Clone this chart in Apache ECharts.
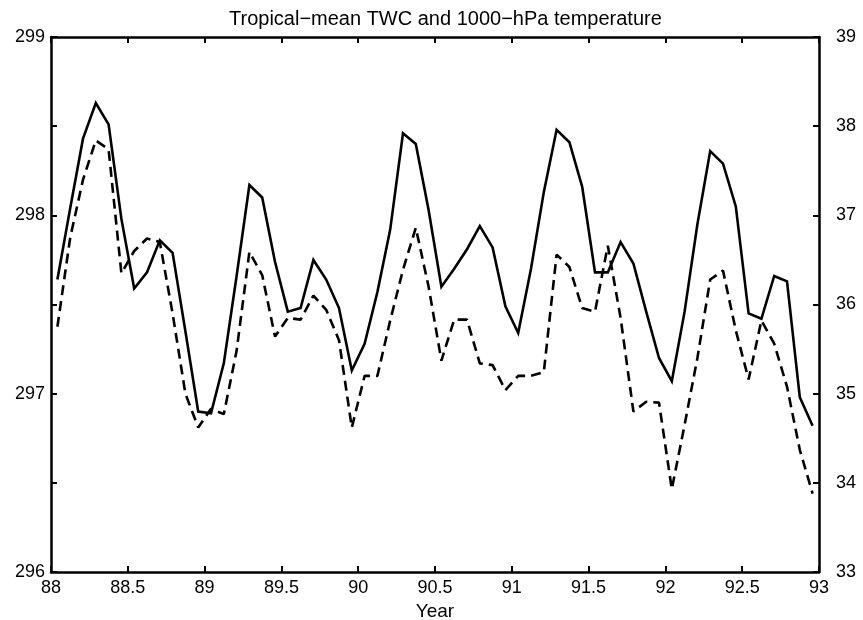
<!DOCTYPE html>
<html>
<head>
<meta charset="utf-8">
<script src="https://cdn.jsdelivr.net/npm/echarts@6/dist/echarts.min.js"></script>
<style>
    html, body { margin: 0; padding: 0; background: #fff; }
    #chart { width: 863px; height: 620px; }
</style>
</head>
<body>
<div id="chart"></div>
<script>
// monthly values, Jan 1988 .. Dec 1992, plotted at mid-month
var firstYear = 88;
var lastYear = 93;

// 1000-hPa temperature (K), left axis, solid line
var temp1000 = [
    297.64, 298.04, 298.43, 298.63, 298.51, 297.98, 297.59, 297.68, 297.86, 297.79, 297.35, 296.90,
    296.89, 297.17, 297.66, 298.17, 298.10, 297.74, 297.46, 297.48, 297.75, 297.64, 297.48, 297.13,
    297.28, 297.57, 297.92, 298.46, 298.40, 298.03, 297.60, 297.70, 297.81, 297.94, 297.82, 297.49,
    297.34, 297.70, 298.13, 298.48, 298.41, 298.16, 297.68, 297.68, 297.85, 297.73, 297.46, 297.20,
    297.07, 297.46, 297.95, 298.36, 298.29, 298.05, 297.45, 297.42, 297.66, 297.63, 296.98, 296.82
];

// TWC, right axis, dashed line
var twc = [
    35.75, 36.75, 37.40, 37.84, 37.74, 36.35, 36.60, 36.74, 36.70, 35.90, 35.00, 34.62,
    34.83, 34.77, 35.48, 36.59, 36.33, 35.64, 35.85, 35.83, 36.10, 35.94, 35.60, 34.62,
    35.20, 35.20, 35.82, 36.39, 36.86, 36.20, 35.37, 35.83, 35.83, 35.34, 35.32, 35.04,
    35.20, 35.20, 35.24, 36.56, 36.42, 35.96, 35.92, 36.66, 35.85, 34.80, 34.91, 34.90,
    33.93, 34.65, 35.40, 36.28, 36.38, 35.71, 35.16, 35.82, 35.56, 35.08, 34.37, 33.88
];

var leftMin = 296, leftMax = 299;
var rightMin = 33, rightMax = 39;

var toPairs = function (values) {
    var out = [];
    for (var i = 0; i < values.length; i++) {
        out.push([firstYear + (i + 0.5) / 12, values[i]]);
    }
    return out;
};

var font = 'Liberation Sans, Arial, Helvetica, sans-serif';
var black = '#000';

var chart = echarts.init(document.getElementById('chart'), null, { renderer: 'canvas' });

var option = {
    animation: false,
    backgroundColor: '#fff',
    title: {
        text: 'Tropical\u2212mean TWC and 1000\u2212hPa temperature',
        left: 224,
        top: 4,
        textStyle: { fontFamily: font, fontSize: 20, fontWeight: 'normal', color: black }
    },
    grid: {
        left: 51, right: 44, top: 37, bottom: 48,
        containLabel: false,
        outerBoundsMode: 'none',
        show: false
    },
    xAxis: [{
        type: 'value',
        min: firstYear, max: lastYear, interval: 0.5,
        position: 'bottom',
        name: 'Year',
        nameLocation: 'middle',
        nameGap: 27,
        nameTextStyle: { fontFamily: font, fontSize: 19, color: black },
        axisLine: { show: true, lineStyle: { color: black, width: 2.5 } },
        axisTick: { show: true, inside: true, length: 6, lineStyle: { color: black, width: 2 } },
        axisLabel: { fontFamily: font, fontSize: 18, color: black, margin: 7 },
        splitLine: { show: false }
    }, {
        type: 'value',
        min: firstYear, max: lastYear, interval: 0.5,
        position: 'top',
        axisLine: { show: true, lineStyle: { color: black, width: 2.5 } },
        axisTick: { show: true, inside: true, length: 6, lineStyle: { color: black, width: 2 } },
        axisLabel: { show: false },
        splitLine: { show: false }
    }],
    yAxis: [{
        type: 'value',
        min: leftMin, max: leftMax, interval: 0.5,
        position: 'left',
        axisLine: { show: true, lineStyle: { color: black, width: 2.5 } },
        axisTick: { show: true, inside: true, length: 6, lineStyle: { color: black, width: 2 } },
        axisLabel: {
            fontFamily: font, fontSize: 18, color: black, margin: 6,
            formatter: function (v) { return v % 1 === 0 ? String(v) : ''; }
        },
        splitLine: { show: false }
    }, {
        type: 'value',
        min: rightMin, max: rightMax, interval: 1,
        position: 'right',
        axisLine: { show: true, lineStyle: { color: black, width: 2.5 } },
        axisTick: { show: true, inside: true, length: 6, lineStyle: { color: black, width: 2 } },
        axisLabel: { fontFamily: font, fontSize: 18, color: black, margin: 17 },
        splitLine: { show: false }
    }],
    series: [{
        name: '1000-hPa temperature',
        type: 'line',
        xAxisIndex: 0,
        yAxisIndex: 0,
        data: toPairs(temp1000),
        symbol: 'none',
        lineStyle: { color: black, width: 2.6, type: 'solid', join: 'miter' }
    }, {
        name: 'TWC',
        type: 'line',
        xAxisIndex: 0,
        yAxisIndex: 1,
        data: toPairs(twc),
        symbol: 'none',
        lineStyle: { color: black, width: 2.6, type: [10, 6] }
    }]
};

chart.setOption(option);
</script>
</body>
</html>
